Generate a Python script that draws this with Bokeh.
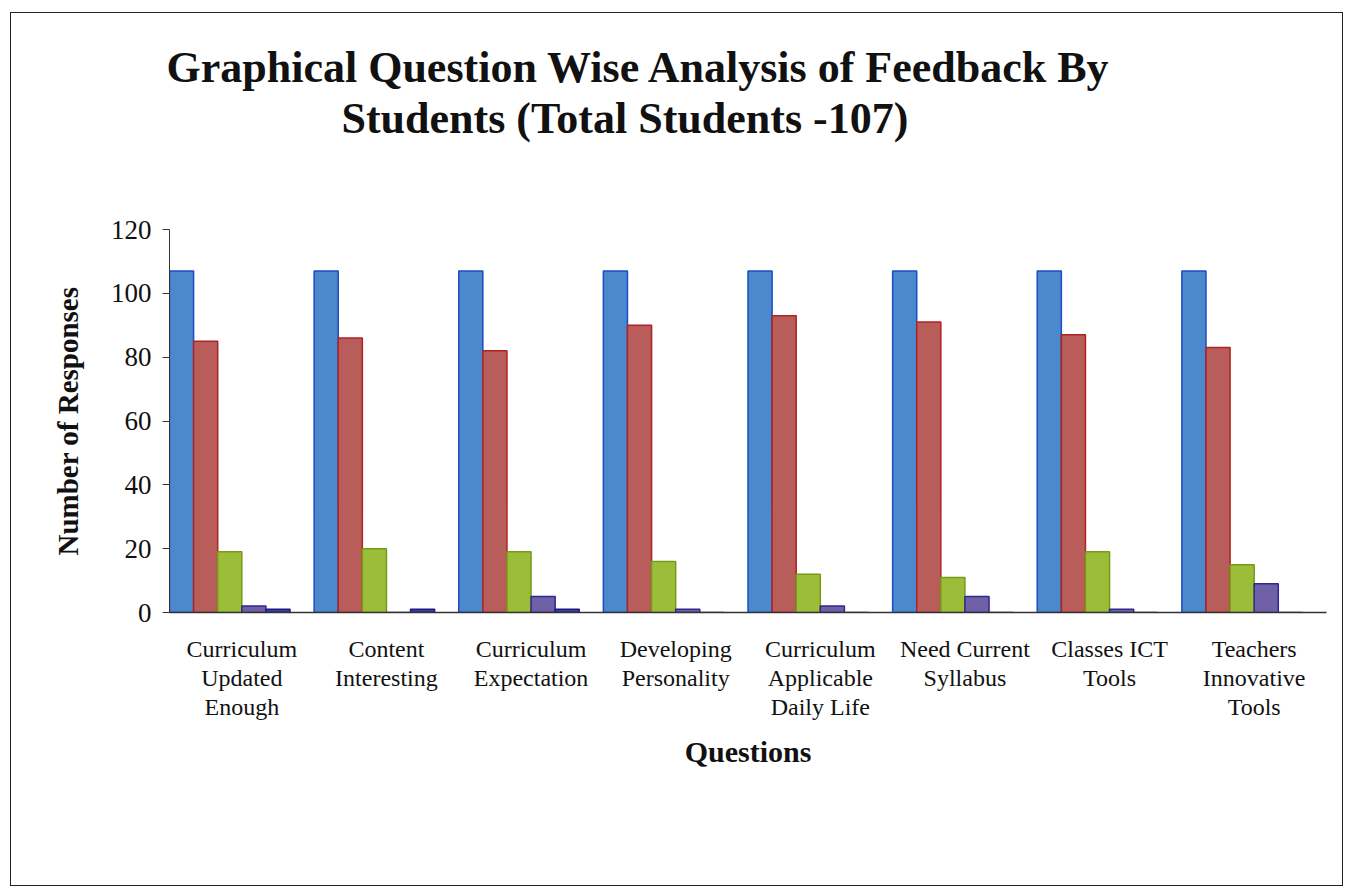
from bokeh.plotting import figure
from bokeh.models import ColumnDataSource, FactorRange, Range1d, FixedTicker, Title
from bokeh.transform import dodge
from bokeh.embed import file_html
from bokeh.resources import INLINE

# ---- data ----
questions = [
    "Curriculum\nUpdated\nEnough",
    "Content\nInteresting",
    "Curriculum\nExpectation",
    "Developing\nPersonality",
    "Curriculum\nApplicable\nDaily Life",
    "Need Current\nSyllabus",
    "Classes ICT\nTools",
    "Teachers\nInnovative\nTools",
]
total_students = [107, 107, 107, 107, 107, 107, 107, 107]
series_2 = [85, 86, 82, 90, 93, 91, 87, 83]
series_3 = [19, 20, 19, 16, 12, 11, 19, 15]
series_4 = [2, 0, 5, 1, 2, 5, 1, 9]
series_5 = [1, 1, 1, 0, 0, 0, 0, 0]
y_ticks = [0, 20, 40, 60, 80, 100, 120]

title_line1 = "Graphical  Question Wise Analysis of Feedback By"
title_line2 = "Students  (Total Students -107)"

series = [total_students, series_2, series_3, series_4, series_5]
fills = ["#4c88cc", "#b95d5a", "#9cbd3a", "#7060a8", "#3e3e9e"]
lines = ["#1a4cc4", "#b02222", "#789a18", "#2c2a8c", "#1c1c80"]

SLOTS = 6
bw = 1.0 / SLOTS

src = ColumnDataSource(data=dict(q=questions, s0=series[0], s1=series[1],
                                 s2=series[2], s3=series[3], s4=series[4]))

W, H = 1333, 874
p = figure(width=W, height=H, output_backend="svg", toolbar_location=None,
           x_range=FactorRange(factors=questions, range_padding=0),
           y_range=Range1d(0, 120),
           min_border_left=158, min_border_right=18,
           min_border_top=216, min_border_bottom=275)
p.styles = {"border": "1.5px solid #222", "margin-left": "10px", "margin-top": "12px"}
p.outline_line_color = None
p.xgrid.grid_line_color = None
p.ygrid.grid_line_color = None
p.background_fill_color = "white"

for k in range(5):
    off = -0.5 + (k + 0.5) * bw
    p.vbar(x=dodge("q", off, range=p.x_range), top="s%d" % k, width=bw,
           source=src, fill_color=fills[k], line_color=lines[k], line_width=1.5)

serif = "Liberation Serif"

# y axis
ya = p.yaxis[0]
ya.ticker = FixedTicker(ticks=y_ticks)
ya.minor_tick_line_color = None
ya.major_tick_out = 7
ya.major_tick_in = 0
ya.axis_line_color = "#333"
ya.major_tick_line_color = "#333"
ya.major_label_text_font = serif
ya.major_label_text_font_size = "27px"
ya.major_label_text_color = "#111"
ya.major_label_standoff = 11
ya.axis_label = "Number of Responses"
ya.axis_label_text_font = serif
ya.axis_label_text_font_style = "bold"
ya.axis_label_text_font_size = "29px"
ya.axis_label_text_color = "#111"
ya.axis_label_standoff = 24

# x axis
xa = p.xaxis[0]
xa.major_tick_line_color = None
xa.minor_tick_line_color = None
xa.axis_line_color = "#333"
xa.axis_line_width = 1.5
xa.major_label_text_font = serif
xa.major_label_text_font_size = "24px"
xa.major_label_text_line_height = 1.12
xa.major_label_text_color = "#111"
xa.major_label_standoff = 17
xa.major_label_orientation = "horizontal"
xa.axis_label = "Questions"
xa.axis_label_text_font = serif
xa.axis_label_text_font_style = "bold"
xa.axis_label_text_font_size = "30px"
xa.axis_label_text_color = "#111"
xa.axis_label_standoff = 12

# title (two lines) above a spacer, nearest added first
p.add_layout(Title(text=" ", standoff=74, text_font_size="10px"), "above")
p.add_layout(Title(text=title_line2, align="left", offset=172, standoff=0,
                   text_font=serif, text_font_style="bold",
                   text_font_size="44px", text_color="#111"), "above")
p.add_layout(Title(text=title_line1, align="left", offset=-3, standoff=0,
                   text_font=serif, text_font_style="bold",
                   text_font_size="44px", text_color="#111"), "above")

open("out.html", "w").write(file_html(p, INLINE))
